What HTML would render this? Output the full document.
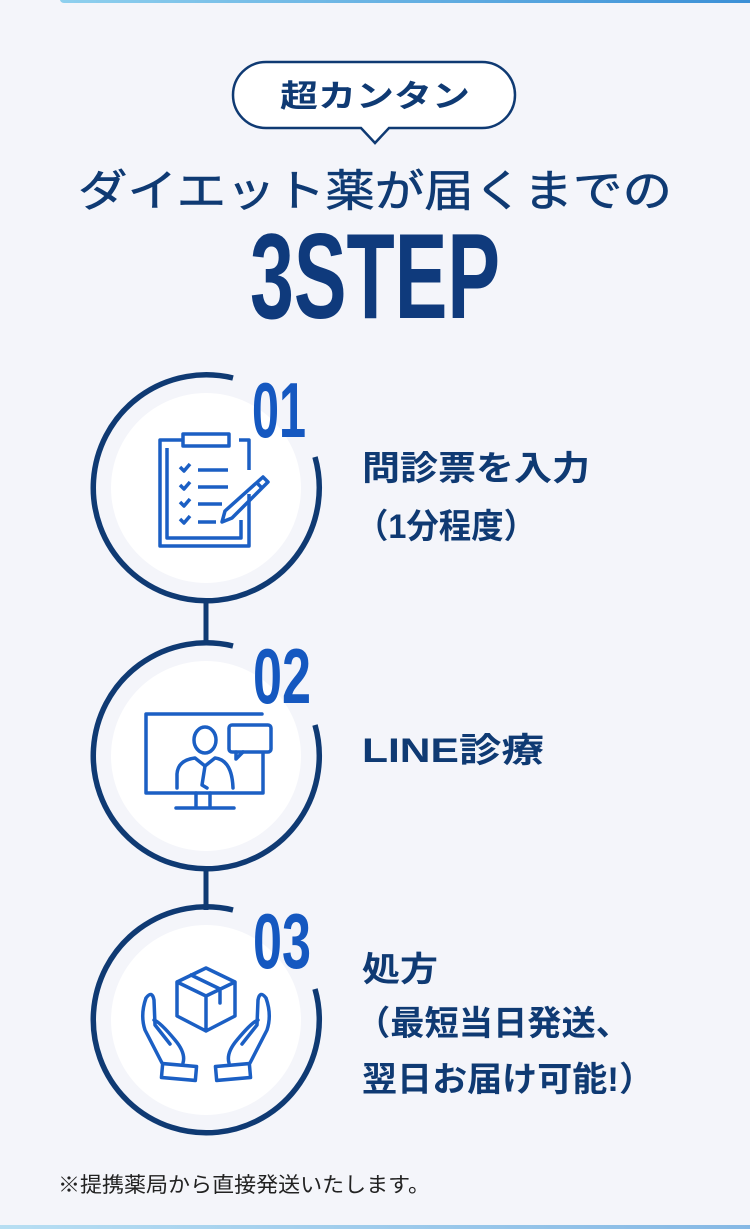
<!DOCTYPE html>
<html><head><meta charset="utf-8"><style>
html,body{margin:0;padding:0}
body{width:750px;height:1229px;background:#f4f5fa;position:relative;overflow:hidden;font-family:"Liberation Sans","Noto Sans CJK JP",sans-serif}
svg{position:absolute;left:0;top:0}
</style></head><body>
<svg width="750" height="1229" viewBox="0 0 750 1229" xmlns="http://www.w3.org/2000/svg">
<defs><linearGradient id="g" x1="0" x2="1"><stop offset="0" stop-color="#8fd0ee"/><stop offset="1" stop-color="#3a8fd6"/></linearGradient></defs>
<rect x="60" y="-4" width="700" height="7" rx="4" fill="url(#g)"/>
<rect x="-10" y="1225" width="770" height="8" rx="4" fill="url(#g)" opacity="0.6"/>
<path d="M266,62 H482 A33,33 0 0 1 482,128 H389 L375,143 L361,128 H266 A33,33 0 0 1 266,62 Z" fill="#fff" stroke="#0f3a73" stroke-width="2.5"/>
<text x="375" y="107" text-anchor="middle" font-size="31" font-weight="bold" fill="#0f3a73" textLength="190" lengthAdjust="spacingAndGlyphs" font-family="Liberation Sans, Noto Sans CJK JP, sans-serif">超カンタン</text>
<text x="375" y="206" text-anchor="middle" font-size="44" fill="#0f3a73" stroke="#0f3a73" stroke-width="0.6" textLength="594" lengthAdjust="spacingAndGlyphs" font-family="Liberation Sans, Noto Sans CJK JP, sans-serif">ダイエット薬が届くまでの</text>
<text x="375" y="318" text-anchor="middle" font-size="122" font-weight="bold" fill="#0f3a7c" textLength="250" lengthAdjust="spacingAndGlyphs" font-family="Liberation Sans Narrow, Liberation Sans, sans-serif">3STEP</text>
<line x1="206" y1="600" x2="206" y2="645" stroke="#0f3a73" stroke-width="5"/>
<line x1="206" y1="868" x2="206" y2="910" stroke="#0f3a73" stroke-width="5"/>
<g>
<circle cx="206" cy="488" r="95" fill="#fff"/>
<path d="M315,457 A113,113 0 1 1 233,378" fill="none" stroke="#0f3a73" stroke-width="5.5"/>
<circle cx="206" cy="756" r="95" fill="#fff"/>
<path d="M315,725 A113,113 0 1 1 233,646" fill="none" stroke="#0f3a73" stroke-width="5.5"/>
<circle cx="206" cy="1020" r="95" fill="#fff"/>
<path d="M315,989 A113,113 0 1 1 233,910" fill="none" stroke="#0f3a73" stroke-width="5.5"/>
</g>
<g font-family="Liberation Sans Narrow, Liberation Sans, sans-serif" font-weight="bold" fill="#1558c0">
<text x="279" y="437" text-anchor="middle" font-size="78" textLength="54" lengthAdjust="spacingAndGlyphs">01</text>
<text x="282" y="703" text-anchor="middle" font-size="78" textLength="58" lengthAdjust="spacingAndGlyphs">02</text>
<text x="282" y="968" text-anchor="middle" font-size="78" textLength="58" lengthAdjust="spacingAndGlyphs">03</text>
</g>
<g fill="none" stroke="#1b5fc4" stroke-width="3.5" stroke-linejoin="round">
<path d="M183,440 H160 V546 H249 V494"/>
<path d="M239,440 H249 V470"/>
<rect x="183" y="434" width="46" height="12"/>
<path d="M167,448 V538 H241 V520"/>
<path d="M180,467 l4,4 l6,-7 M180,485 l4,4 l6,-7 M180,502 l4,4 l6,-7 M180,519 l4,4 l6,-7"/>
<path d="M198,470 H228 M198,487 H228 M198,504 H222 M198,522 H216"/>
<path d="M263,477 L268,482 L232,518 L222,522 L225,511 Z M257,483 L262,488"/>
</g>
<g fill="none" stroke="#1b5fc4" stroke-width="3.5" stroke-linejoin="round" stroke-linecap="round">
<path d="M263,747 V793 H146 V714 H262"/>
<path d="M196,793 V806 M210,793 V806 M176,808 H234"/>
<rect x="229" y="725" width="42" height="27" rx="3" fill="#fff"/>
<path d="M236,752 V759 L243,752"/>
<ellipse cx="205" cy="740" rx="11" ry="13"/>
<path d="M177,788 V774 Q178,760 195,758 L205,766 L215,758 Q232,760 233,788"/>
<path d="M205,766 L202,785 L207,788"/>
</g>
<g fill="none" stroke="#1b5fc4" stroke-width="3.5" stroke-linejoin="round" stroke-linecap="round">
<path d="M206,968 L235,982 V1016 L206,1031 L177,1016 V982 Z M177,982 L206,996 L235,982 M206,996 V1031 M191,975 L220,989 V1003"/>
<path d="M162,1063 L145,1030 Q140,1015 146,998 Q152,990 154,1000 L155,1025 L170,1044 M154,1020 Q160,1022 175,1040 Q186,1053 183,1063"/>
<rect x="162" y="1065" width="34" height="14" transform="rotate(5 179 1072)"/>
<path d="M250,1063 L267,1030 Q272,1015 266,998 Q260,990 258,1000 L257,1025 L242,1044 M258,1020 Q252,1022 237,1040 Q226,1053 229,1063"/>
<rect x="216" y="1065" width="34" height="14" transform="rotate(-5 233 1072)"/>
</g>
<g font-family="Liberation Sans, Noto Sans CJK JP, sans-serif" font-size="34" font-weight="bold" fill="#0f3a73">
<text x="362" y="480" textLength="228" lengthAdjust="spacingAndGlyphs">問診票を入力</text>
<text x="356" y="538" textLength="180" lengthAdjust="spacingAndGlyphs">（1分程度）</text>
<text x="362" y="762" textLength="182" lengthAdjust="spacingAndGlyphs">LINE診療</text>
<text x="362" y="981" textLength="76" lengthAdjust="spacingAndGlyphs">処方</text>
<text x="356" y="1035" textLength="274" lengthAdjust="spacingAndGlyphs">（最短当日発送、</text>
<text x="362" y="1091" textLength="292" lengthAdjust="spacingAndGlyphs">翌日お届け可能!）</text>
</g>
<text x="58" y="1192" font-size="21" fill="#222" textLength="372" lengthAdjust="spacingAndGlyphs" font-family="Liberation Sans, Noto Sans CJK JP, sans-serif">※提携薬局から直接発送いたします。</text>
</svg>
</body></html>
